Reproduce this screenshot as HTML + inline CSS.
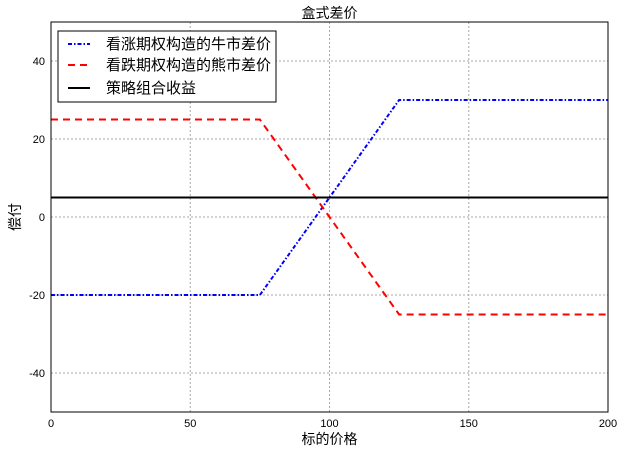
<!DOCTYPE html>
<html><head><meta charset="utf-8"><style>
body{margin:0;background:#fff;}
svg{display:block;font-family:"Liberation Sans","Noto Sans CJK SC",sans-serif;}
</style></head><body>
<svg id="chart" width="624" height="454"></svg>
<script>
const strikes=[0,75,125,200];
const bullPayoff=[-20,-20,30,30];
const bearPayoff=[25,25,-25,-25];
const totalPayoff=[5,5,5,5];
const xTicks=[0,50,100,150,200];
const yTicks=[-40,-20,0,20,40];
const L=51,R=608,T=22,B=412;
const xs=v=>L+(v-0)/200*(R-L);
const ys=v=>B-(v+50)/100*(B-T);
const svg=document.getElementById('chart');
const NS='http://www.w3.org/2000/svg';
function mk(tag,attrs,parent){const e=document.createElementNS(NS,tag);for(const k in attrs)e.setAttribute(k,attrs[k]);(parent||svg).appendChild(e);return e;}
xTicks.forEach(t=>{
const g=mk('line',{x1:xs(t),x2:xs(t),y1:T,y2:B,stroke:'#aaa','stroke-dasharray':'2,2','stroke-width':1});


const tk=mk('text',{x:xs(t),y:B+15,'text-anchor':'middle','font-size':11});
tk.textContent=t;


});
yTicks.forEach(t=>{
const g=mk('line',{x1:L,x2:R,y1:ys(t),y2:ys(t),stroke:'#aaa','stroke-dasharray':'2,2','stroke-width':1});


const tk=mk('text',{x:L-6,y:ys(t)+4,'text-anchor':'end','font-size':11});
tk.textContent=t;


});
function series(vals,color,dash,name){
const pts=strikes.map((s,i)=>xs(s)+','+ys(vals[i])).join(' ');
const p=mk('polyline',{points:pts,fill:'none',stroke:color,'stroke-width':2,'stroke-dasharray':dash});


}
series(bullPayoff,'#0000ff','4,2,1.5,2','bull-spread-line');
series(bearPayoff,'#ff0000','7,5','bear-spread-line');
series(totalPayoff,'#000','none','total-payoff-line');
const frame=mk('rect',{x:L,y:T,width:R-L,height:B-T,fill:'none',stroke:'#000','stroke-width':1});


const title=mk('text',{x:(L+R)/2,y:18,'text-anchor':'middle','font-size':14});
title.textContent='盒式差价';


const xl=mk('text',{x:(L+R)/2,y:444,'text-anchor':'middle','font-size':14});
xl.textContent='标的价格';


const yl=mk('text',{x:20,y:217,'text-anchor':'middle','font-size':14,transform:'rotate(-90 20 217)'});
yl.textContent='偿付';


const lg=mk('g',{});


mk('rect',{x:58,y:31,width:218,height:71,fill:'#fff',stroke:'#000','stroke-width':1},lg);
const items=[['看涨期权构造的牛市差价','#0000ff','4,2,1.5,2',44],['看跌期权构造的熊市差价','#ff0000','7,5',65],['策略组合收益','#000','none',88]];
items.forEach(it=>{
mk('line',{x1:68,x2:90,y1:it[3],y2:it[3],stroke:it[1],'stroke-width':2,'stroke-dasharray':it[2]},lg);
const t=mk('text',{x:106,y:it[3]+5,'font-size':15},lg);
t.textContent=it[0];


});
</script>
</body></html>
